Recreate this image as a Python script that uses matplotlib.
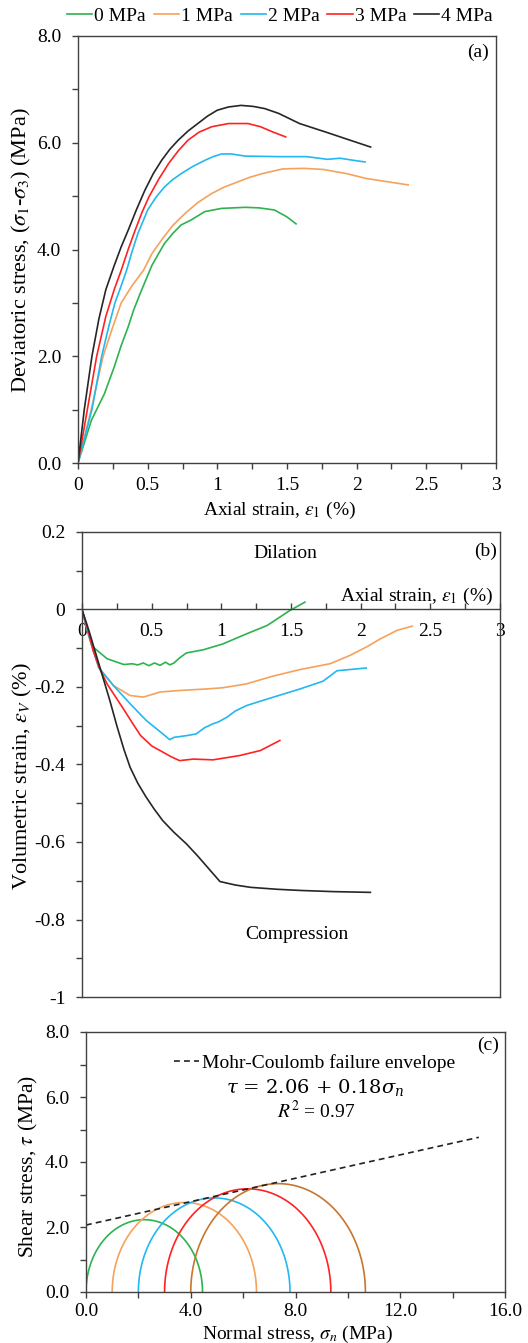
import numpy as np
import matplotlib
matplotlib.use("Agg")
import matplotlib.pyplot as plt
from matplotlib.ticker import MultipleLocator
from matplotlib.lines import Line2D

plt.rcParams['font.family'] = ['Liberation Serif', 'DejaVu Serif']
plt.rcParams['mathtext.fontset'] = 'stix'
plt.rcParams['font.size'] = 14

# ---------------- data ----------------
labels = ["0 MPa", "1 MPa", "2 MPa", "3 MPa", "4 MPa"]
colors = ["#2db34f", "#f5a25c", "#22b8f0", "#ff2222", "#262626"]

# (a) deviatoric stress vs axial strain
a_eps0 = [0, 0.096, 0.19, 0.26, 0.31, 0.36, 0.40, 0.45, 0.49, 0.53, 0.58, 0.62, 0.68, 0.74, 0.81, 0.91, 1.03, 1.20, 1.30, 1.41, 1.50, 1.565]
a_s0 = [0, 0.8, 1.3, 1.8, 2.2, 2.55, 2.87, 3.2, 3.45, 3.7, 3.93, 4.11, 4.30, 4.46, 4.55, 4.71, 4.77, 4.79, 4.78, 4.74, 4.61, 4.48]
a_eps1 = [0, 0.095, 0.18, 0.25, 0.31, 0.39, 0.47, 0.53, 0.60, 0.68, 0.77, 0.86, 0.96, 1.05, 1.15, 1.23, 1.32, 1.47, 1.62, 1.76, 1.93, 2.07, 2.22, 2.37]
a_s1 = [0, 1.0, 2.0, 2.55, 3.0, 3.33, 3.61, 3.92, 4.18, 4.45, 4.68, 4.88, 5.05, 5.17, 5.27, 5.35, 5.42, 5.51, 5.52, 5.50, 5.42, 5.33, 5.27, 5.21]
a_eps2 = [0, 0.10, 0.17, 0.22, 0.265, 0.31, 0.35, 0.39, 0.43, 0.50, 0.56, 0.62, 0.68, 0.74, 0.82, 0.91, 0.97, 1.03, 1.10, 1.20, 1.44, 1.64, 1.79, 1.88, 1.98, 2.06]
a_s2 = [0, 1.0, 2.0, 2.55, 3.0, 3.32, 3.62, 3.98, 4.30, 4.74, 4.98, 5.17, 5.31, 5.42, 5.55, 5.67, 5.74, 5.79, 5.79, 5.75, 5.74, 5.74, 5.69, 5.71, 5.67, 5.64]
a_eps3 = [0, 0.067, 0.134, 0.20, 0.26, 0.31, 0.36, 0.41, 0.46, 0.51, 0.58, 0.65, 0.72, 0.79, 0.87, 0.96, 1.08, 1.22, 1.31, 1.40, 1.49]
a_s3 = [0, 1.0, 2.0, 2.75, 3.25, 3.61, 4.0, 4.36, 4.70, 4.99, 5.32, 5.61, 5.85, 6.05, 6.20, 6.30, 6.36, 6.36, 6.30, 6.20, 6.11]
a_eps4 = [0, 0.045, 0.10, 0.15, 0.20, 0.26, 0.31, 0.36, 0.42, 0.48, 0.54, 0.60, 0.66, 0.72, 0.79, 0.86, 0.93, 1.0, 1.08, 1.17, 1.26, 1.34, 1.44, 1.59, 1.79, 1.95, 2.10]
a_s4 = [0, 1.0, 2.0, 2.7, 3.25, 3.7, 4.05, 4.36, 4.75, 5.11, 5.42, 5.67, 5.88, 6.05, 6.22, 6.36, 6.50, 6.61, 6.67, 6.70, 6.68, 6.64, 6.55, 6.36, 6.19, 6.05, 5.92]

# (b) volumetric strain vs axial strain
b_eps0 = [0, 0.03, 0.08, 0.18, 0.30, 0.36, 0.40, 0.44, 0.48, 0.52, 0.56, 0.60, 0.63, 0.66, 0.70, 0.75, 0.87, 1.01, 1.18, 1.33, 1.49, 1.60]
b_v0 = [0, -0.04, -0.097, -0.127, -0.142, -0.140, -0.143, -0.138, -0.145, -0.138, -0.144, -0.136, -0.143, -0.138, -0.125, -0.112, -0.104, -0.089, -0.063, -0.041, -0.003, 0.019]
b_eps1 = [0, 0.05, 0.12, 0.225, 0.345, 0.44, 0.56, 0.70, 0.895, 1.01, 1.18, 1.37, 1.565, 1.78, 1.92, 2.04, 2.14, 2.26, 2.37]
b_v1 = [0, -0.07, -0.15, -0.196, -0.222, -0.226, -0.213, -0.209, -0.205, -0.202, -0.192, -0.172, -0.155, -0.140, -0.119, -0.097, -0.076, -0.054, -0.043]
b_eps2 = [0, 0.05, 0.12, 0.225, 0.345, 0.46, 0.58, 0.63, 0.66, 0.70, 0.76, 0.82, 0.88, 0.94, 0.98, 1.04, 1.10, 1.18, 1.33, 1.565, 1.73, 1.83, 2.04]
b_v2 = [0, -0.07, -0.15, -0.196, -0.243, -0.286, -0.321, -0.336, -0.330, -0.328, -0.325, -0.321, -0.305, -0.295, -0.290, -0.278, -0.262, -0.248, -0.231, -0.205, -0.185, -0.158, -0.151]
b_eps3 = [0, 0.04, 0.08, 0.13, 0.18, 0.24, 0.30, 0.36, 0.42, 0.50, 0.58, 0.64, 0.70, 0.80, 0.94, 1.13, 1.28, 1.42]
b_v3 = [0, -0.05, -0.106, -0.155, -0.192, -0.225, -0.258, -0.292, -0.325, -0.352, -0.368, -0.380, -0.390, -0.386, -0.388, -0.377, -0.364, -0.338]
b_eps4 = [0, 0.05, 0.10, 0.15, 0.20, 0.25, 0.30, 0.345, 0.40, 0.46, 0.52, 0.58, 0.66, 0.75, 0.83, 0.91, 0.99, 1.10, 1.21, 1.40, 1.565, 1.80, 2.07]
b_v4 = [0, -0.055, -0.115, -0.175, -0.235, -0.30, -0.36, -0.407, -0.448, -0.484, -0.516, -0.545, -0.575, -0.605, -0.636, -0.669, -0.702, -0.711, -0.717, -0.722, -0.725, -0.728, -0.730]

# (c) Mohr circles
sigma3 = [0.0, 1.0, 2.0, 3.0, 4.0]
sigma1 = [4.45, 6.51, 7.79, 9.35, 10.67]
circle_colors = ["#2db34f", "#f5a25c", "#22b8f0", "#ff2222", "#c8752d"]
cohesion = 2.06
slope = 0.18
env_sigma = [0.0, 15.0]

a_eps = [a_eps0, a_eps1, a_eps2, a_eps3, a_eps4]
a_s = [a_s0, a_s1, a_s2, a_s3, a_s4]
b_eps = [b_eps0, b_eps1, b_eps2, b_eps3, b_eps4]
b_v = [b_v0, b_v1, b_v2, b_v3, b_v4]

# ---------------- figure ----------------
W, H = 528, 1343
fig = plt.figure(figsize=(W / 100, H / 100), dpi=100)

def rect(l, r, t, b):
    return [l / W, 1 - b / H, (r - l) / W, (b - t) / H]

spine_c = "#404040"

def style(ax):
    for s in ax.spines.values():
        s.set_color(spine_c)
        s.set_linewidth(1.0)
    ax.tick_params(which='both', color=spine_c, length=4, width=1.0, labelsize=14)
    ax.tick_params(axis='y', pad=8)
    ax.tick_params(axis='x', pad=6)

# ---- (a)
ax1 = fig.add_axes(rect(78, 496, 36, 463))
style(ax1)
for e, s, c in zip(a_eps, a_s, colors):
    ax1.plot(e, s, color=c, lw=1.2)
ax1.set_xlim(0, 3)
ax1.set_ylim(0, 8)
ax1.xaxis.set_major_locator(MultipleLocator(0.5))
ax1.xaxis.set_minor_locator(MultipleLocator(0.25))
ax1.xaxis.set_major_formatter(plt.FuncFormatter(lambda v, p: f"{v:g}"))
ax1.yaxis.set_major_locator(MultipleLocator(2))
ax1.yaxis.set_minor_locator(MultipleLocator(1))
ax1.yaxis.set_major_formatter(plt.FuncFormatter(lambda v, p: f"{v:.1f}"))
ax1.text(0.957, 0.9625, "(a)", transform=ax1.transAxes, ha='center', va='center')

fig.text(280 / W, 1 - 510 / H, r"Axial strain, $\varepsilon_1$ (%)", ha='center', va='center')
fig.text(21 / W, 1 - 250 / H, r"Deviatoric stress, ($\sigma_1$-$\sigma_3$) (MPa)",
         ha='center', va='center', rotation=90, fontsize=16)

# ---- (b)
ax2 = fig.add_axes(rect(82, 500, 532, 997))
style(ax2)
for e, v, c in zip(b_eps, b_v, colors):
    ax2.plot(e, v, color=c, lw=1.2)
ax2.set_xlim(0, 3)
ax2.set_ylim(-1, 0.2)
ax2.spines['bottom'].set_position(('data', 0))
ax2.axhline(-1, color=spine_c, lw=1.0, clip_on=False, zorder=5)
ax2.xaxis.set_major_locator(MultipleLocator(0.5))
ax2.xaxis.set_minor_locator(MultipleLocator(0.25))
ax2.xaxis.set_major_formatter(plt.FuncFormatter(lambda v, p: f"{v:g}"))
ax2.tick_params(axis='x', which='both', direction='in', pad=10)
ax2.yaxis.set_major_locator(MultipleLocator(0.2))
ax2.yaxis.set_minor_locator(MultipleLocator(0.1))
ax2.yaxis.set_major_formatter(plt.FuncFormatter(lambda v, p: "%g" % round(v, 2)))
ax2.text(0.9665, 0.959, "(b)", transform=ax2.transAxes, ha='center', va='center')
ax2.text(1.457, 0.145, "Dilation", ha='center', va='center')
ax2.text(1.54, -0.839, "Compression", ha='center', va='center')
ax2.text(2.95, 0.034, r"Axial strain, $\varepsilon_1$ (%)", ha='right', va='center')
fig.text(22 / W, 1 - 776 / H, r"Volumetric strain, $\varepsilon_V$ (%)",
         ha='center', va='center', rotation=90, fontsize=16)

# ---- (c)
ax3 = fig.add_axes(rect(86, 505, 1032, 1292))
style(ax3)
theta = np.linspace(0, np.pi, 300)
for s3, s1, c in zip(sigma3, sigma1, circle_colors):
    cen = (s1 + s3) / 2
    r = (s1 - s3) / 2
    ax3.plot(cen + r * np.cos(theta), r * np.sin(theta), color=c, lw=1.2)
env_x = np.array(env_sigma)
ax3.plot(env_x, cohesion + slope * env_x, color="#222222", lw=1.2, ls=(0, (3.5, 2.5)),
         label="Mohr-Coulomb failure envelope")
ax3.set_xlim(0, 16)
ax3.set_ylim(0, 8)
ax3.xaxis.set_major_locator(MultipleLocator(4))
ax3.xaxis.set_minor_locator(MultipleLocator(2))
ax3.xaxis.set_major_formatter(plt.FuncFormatter(lambda v, p: f"{v:.1f}"))
ax3.yaxis.set_major_locator(MultipleLocator(2))
ax3.yaxis.set_minor_locator(MultipleLocator(1))
ax3.yaxis.set_major_formatter(plt.FuncFormatter(lambda v, p: f"{v:.1f}"))
ax3.tick_params(axis='x', which='major', pad=4)
ax3.text(0.959, 0.95, "(c)", transform=ax3.transAxes, ha='center', va='center')
ax3.legend(loc='center left', bbox_to_anchor=((174 - 86) / 419, (1292 - 1063) / 260),
           frameon=False, handlelength=1.3, handletextpad=0.15, borderpad=0, borderaxespad=0,
           fontsize=14)
ax3.text((315 - 86) / 419, (1292 - 1087) / 260, r"$\tau$ = 2.06 + 0.18$\sigma_n$",
         transform=ax3.transAxes, ha='center', va='center', fontsize=14,
         math_fontfamily='dejavuserif', family='DejaVu Serif')
ax3.text((316 - 86) / 419, (1292 - 1111) / 260, r"$R^2$ = 0.97",
         transform=ax3.transAxes, ha='center', va='center', fontsize=14)
fig.text(297 / W, 1 - 1334 / H, r"Normal stress, $\sigma_n$ (MPa)", ha='center', va='center')
fig.text(28 / W, 1 - 1166 / H, r"Shear stress, $\tau$ (MPa)", ha='center', va='center',
         rotation=90, fontsize=15.5)

# ---- top legend
handles = [Line2D([], [], color=c, lw=1.2) for c in colors]
fig.legend(handles, labels, loc='center', bbox_to_anchor=(280 / W, 1 - 16 / H), ncol=5,
           frameon=False, handlelength=1.3, handletextpad=0.1, columnspacing=0.4,
           borderpad=0, fontsize=14)

fig.savefig("out.png", dpi=100)
